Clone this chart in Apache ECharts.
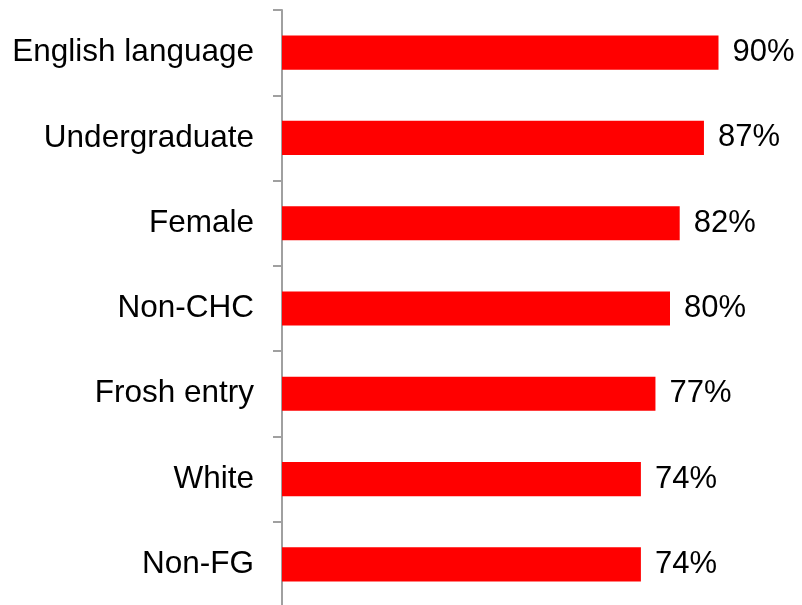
<!DOCTYPE html>
<html>
<head>
<meta charset="utf-8">
<script src="https://cdn.jsdelivr.net/npm/echarts@6/dist/echarts.min.js"></script>
<style>
  html, body { margin: 0; padding: 0; background: #fff; }
  #chart { width: 802px; height: 605px; }
</style>
</head>
<body>
<div id="chart"></div>
<script>
// categories top to bottom
const categories = ['English language', 'Undergraduate', 'Female', 'Non-CHC', 'Frosh entry', 'White', 'Non-FG'];
// percent values
const values = [90, 87, 82, 80, 77, 74, 74];

let myChart = echarts.init(document.getElementById('chart'));
let option = {
  animation: false,
  grid: { left: 282, right: 35, top: 10, height: 597, containLabel: false, outerBoundsMode: 'none' },
  xAxis: {
    type: 'value',
    min: 0,
    max: 100,
    show: false
  },
  yAxis: {
    type: 'category',
    data: categories,
    inverse: true,
    axisLine: { show: true, lineStyle: { color: '#a0a0a0', width: 2 } },
    axisTick: { show: true, length: 9, lineStyle: { color: '#a0a0a0', width: 2 } },
    axisLabel: {
      margin: 28,
      color: '#000',
      fontFamily: 'Liberation Sans, Arial, sans-serif',
      fontSize: 31.5
    }
  },
  series: [
    {
      type: 'bar',
      data: values,
      barWidth: '40%',
      itemStyle: { color: '#ff0000' },
      label: {
        show: true,
        position: 'right',
        distance: 14,
        formatter: '{c}%',
        color: '#000',
        fontFamily: 'Liberation Sans, Arial, sans-serif',
        fontSize: 31
      }
    }
  ]
};
option && myChart.setOption(option);
</script>
</body>
</html>
